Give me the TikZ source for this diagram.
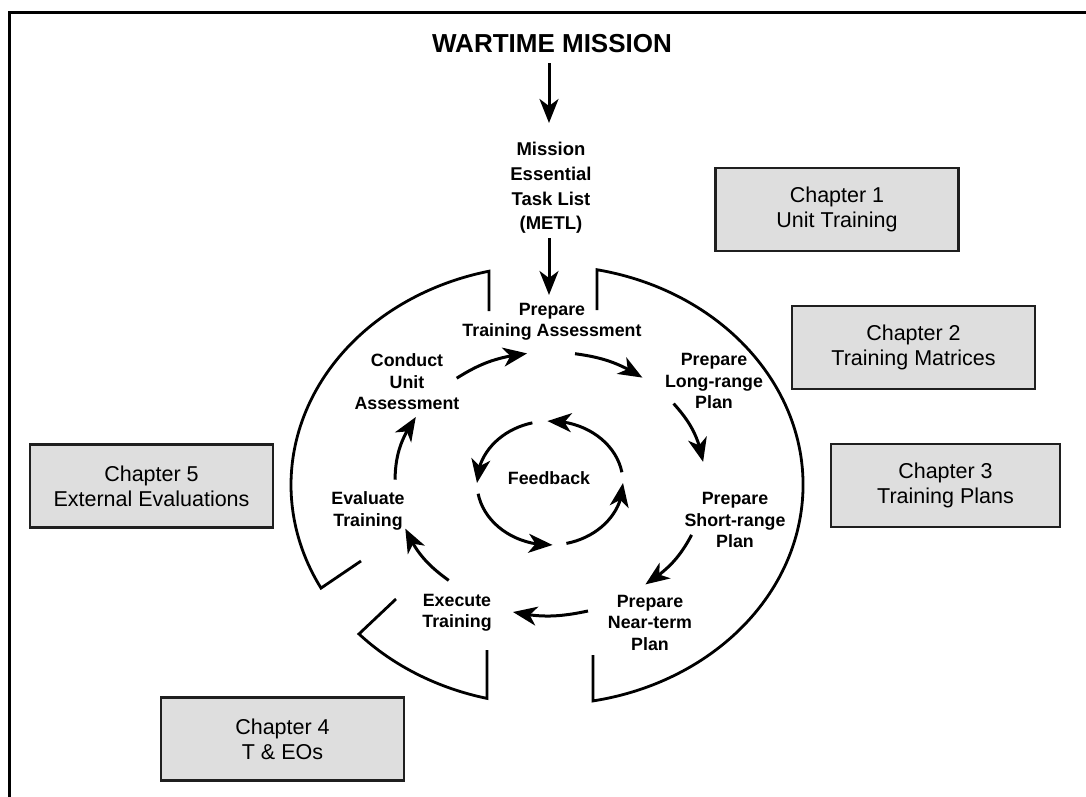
\documentclass[tikz,border=0pt]{standalone}
\usepackage{fontspec}
\setmainfont{Liberation Sans}
\usetikzlibrary{arrows.meta,bending}
\begin{document}
\begin{tikzpicture}[x=1pt,y=-1pt,
  every node/.style={inner sep=0pt, align=center, text=black},
  tip/.style={line width=3pt, -{Stealth[length=24pt,width=19pt,inset=7pt]}},
  ring/.style={line width=2.8pt, line join=miter},
  lbl/.style={font=\fontsize{17.8pt}{21.5pt}\selectfont\bfseries},
  chap/.style={draw=black!88, line width=2.5pt, fill=black!13,
    minimum width=243pt, minimum height=83pt,
    font=\fontsize{21.5pt}{25pt}\selectfont},
]
\useasboundingbox (0,0) rectangle (1086,797);

% page frame (top and left edges)
\draw[line width=3pt] (9,797) -- (9,12.5) -- (1086,12.5);

% headings
\node[font=\fontsize{26pt}{30pt}\selectfont\bfseries] (war) at (552,43.5) {WARTIME MISSION};
\node[font=\fontsize{18.5pt}{24.7pt}\selectfont\bfseries] (metl) at (551,188)
  {Mission\\Essential\\Task List\\(METL)};

% chapter boxes
\node[chap] (ch1) at (837,209.5) {Chapter 1\\Unit Training};
\node[chap] (ch2) at (913.5,347.5) {Chapter 2\\Training Matrices};
\node[chap, minimum width=229pt] (ch3) at (945.5,485.5) {Chapter 3\\Training Plans};
\node[chap] (ch5) at (151.5,486) {Chapter 5\\External Evaluations};
\node[chap] (ch4) at (282.5,739) {Chapter 4\\T \& EOs};

% cycle steps
\node[lbl] (pta)  at (552,322)   {Prepare\\Training Assessment};
\node[lbl] (plrp) at (714,381)   {Prepare\\Long-range\\Plan};
\node[lbl] (psrp) at (735,520)   {Prepare\\Short-range\\Plan};
\node[lbl] (pntp) at (650,622.5) {Prepare\\Near-term\\Plan};
\node[lbl] (exec) at (457,613)   {Execute\\Training};
\node[lbl] (eval) at (368,511)   {Evaluate\\Training};
\node[lbl] (cua)  at (407,382)   {Conduct\\Unit\\Assessment};
\node[lbl] (fb)   at (549,478)   {Feedback};
\coordinate (fbc) at (550,483);

% outer broken ring
\draw[ring] (597,310) -- (597,269.73)
  arc[start angle=78.74, end angle=-79.65, x radius=256pt, y radius=219.5pt] -- (593,655);
\draw[ring] (396,599) -- (358.97,633.97)
  arc[start angle=222.74, end angle=256.45, x radius=256pt, y radius=219.5pt] -- (487,650);
\draw[ring] (489,311) -- (488.98,271.2)
  arc[start angle=103.1, end angle=208.02, x radius=256pt, y radius=219.5pt] -- (361,561);

% mission flow
\draw[tip] ([shift={(-3,20)}]war.center) -- ([shift={(-2,-65)}]metl.center);
\draw[tip] ([shift={(-2,50)}]metl.center) -- ([shift={(-3,-27)}]pta.center);

% training management cycle
\draw[tip] ([shift={(49.7,-3.8)}]cua.center) to[out=32.3,in=187.1] ([shift={(-24.9,31.4)}]pta.center);
\draw[tip] ([shift={(23,31.7)}]pta.center) to[out=-7.8,in=148.1] ([shift={(-71.6,-3.4)}]plrp.center);
\draw[tip] ([shift={(-40.4,22.6)}]plrp.center) to[out=-48,in=100.6] ([shift={(-31.9,-58.1)}]psrp.center);
\draw[tip] ([shift={(-43.4,14.9)}]psrp.center) to[out=-117.9,in=33.2] ([shift={(-4.6,-38.1)}]pntp.center);
\draw[tip] ([shift={(-62,-11.5)}]pntp.center) to[out=191.8,in=-11.8] ([shift={(56,-1)}]exec.center);
\draw[tip] ([shift={(-8.3,-32.6)}]exec.center) to[out=144.1,in=-65.4] ([shift={(37.3,17.6)}]eval.center);
\draw[tip] ([shift={(27,-31.3)}]eval.center) to[out=88.8,in=235.5] ([shift={(8.8,35)}]cua.center);

% feedback loop
\draw[tip] (fbc) ++(10:73pt and 62pt)  arc[start angle=10,  end angle=92,  x radius=73pt, y radius=62pt];
\draw[tip] (fbc) ++(104:73pt and 62pt) arc[start angle=104, end angle=180, x radius=73pt, y radius=62pt];
\draw[tip] (fbc) ++(190:73pt and 62pt) arc[start angle=190, end angle=272, x radius=73pt, y radius=62pt];
\draw[tip] (fbc) ++(283:73pt and 62pt) arc[start angle=283, end angle=360, x radius=73pt, y radius=62pt];
\end{tikzpicture}
\end{document}
